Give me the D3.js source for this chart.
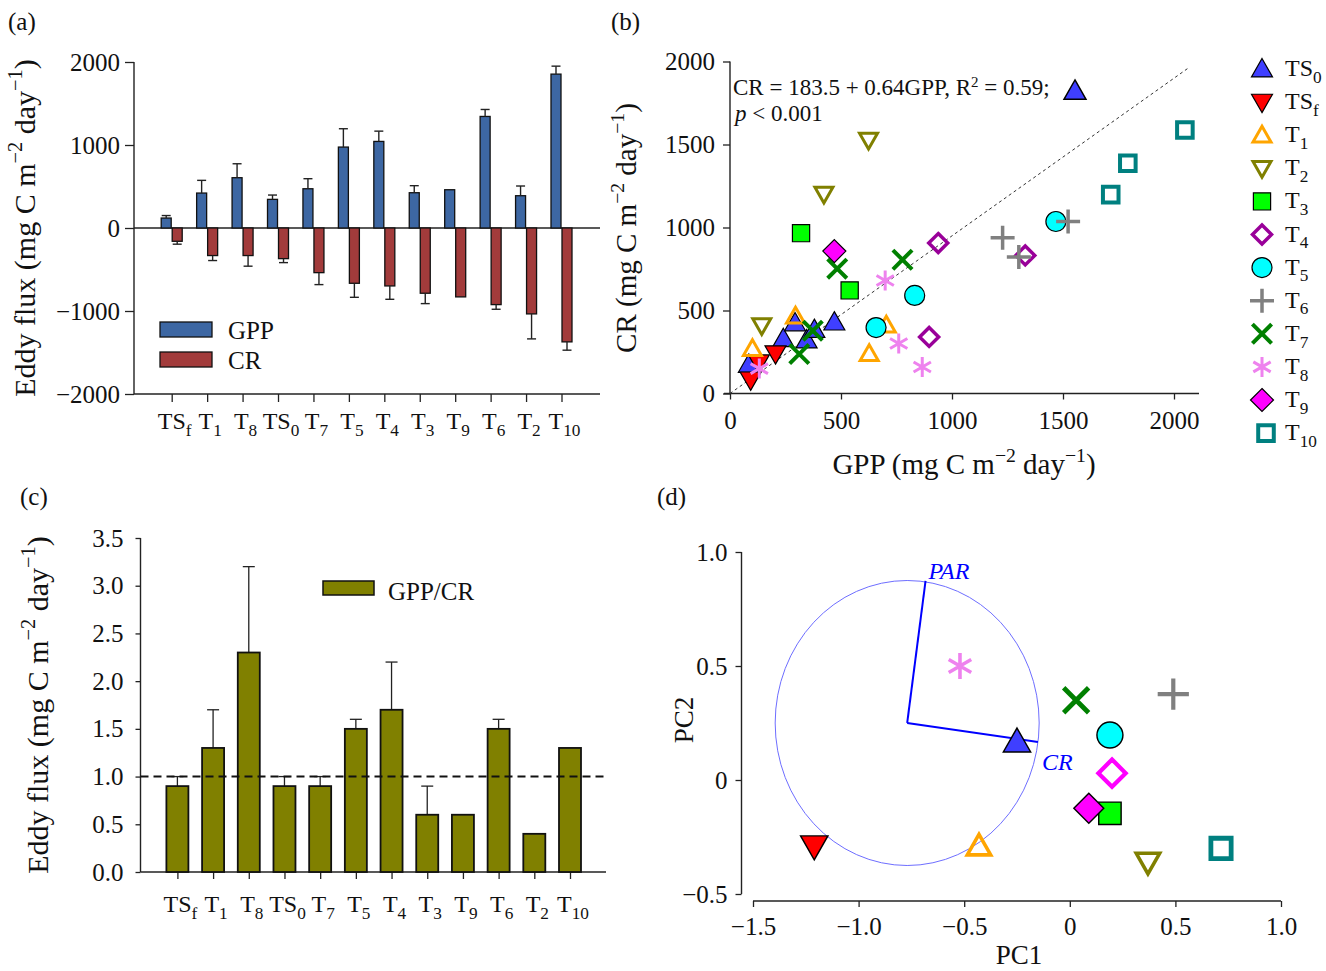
<!DOCTYPE html>
<html><head><meta charset="utf-8">
<script src="https://cdn.jsdelivr.net/npm/d3@7"></script>
<style>
body{margin:0;background:#fff}
svg{display:block;background:#fff}
text{font-family:"Liberation Serif","Times New Roman",serif;fill:#111}
</style>
</head><body>
<svg id="chart" width="1326" height="971"></svg>
<script>
// ---------------- DATA ----------------
const categories = ["TSf","T1","T8","TS0","T7","T5","T4","T3","T9","T6","T2","T10"];
// panel (a): eddy flux means and error
const gppMean = [120,421,606,345,473,975,1043,425,461,1344,389,1854];
const gppErr  = [30,153,168,52,121,221,124,85,0,84,117,96];
const crMean  = [160,332,332,369,538,666,698,786,830,923,1035,1372];
const crErr   = [35,60,128,48,144,169,161,125,0,56,301,100];
const fluxTicks = [-2000,-1000,0,1000,2000];
// panel (c): GPP/CR ratio
const ratioMean = [0.9,1.3,2.3,0.9,0.9,1.5,1.7,0.6,0.6,1.5,0.4,1.3];
const ratioErr  = [0.1,0.4,0.9,0.1,0.1,0.1,0.5,0.3,0,0.1,0,0];
const ratioTicks = [0,0.5,1.0,1.5,2.0,2.5,3.0,3.5];
const ratioRef = 1.0;
// panel (b): scatter GPP vs CR per treatment
const seriesNames = ["TS0","TSf","T1","T2","T3","T4","T5","T6","T7","T8","T9","T10"];
const scatterGPP = [[85,240,293,345,380,470],[93,130,205],[101,295,627,704],[143,423,624],[320,539],[938,1330,897],[1468,832,658],[1228,1301,1523],[483,777,312,373],[132,699,760,866],[470],[1715,1792,2049]];
const scatterCR  = [[175,330,425,322,385,430],[82,185,240],[270,465,240,411],[410,1202,1527],[966,621],[906,832,341],[1036,591,397],[938,822,1036],[752,806,238,378],[150,681,301,160],[858],[1198,1387,1587]];
const scatterTicks = [0,500,1000,1500,2000];
const refLine = [[0,0],[2068,1964]];
// panel (d): PCA scores
const pc1 = [-0.25,-1.21,-0.43,0.37,0.19,0.20,0.19,0.49,0.03,-0.52,0.09,0.716];
const pc2 = [0.168,-0.29,-0.29,-0.36,-0.146,0.03,0.197,0.377,0.35,0.50,-0.124,-0.30];
const pcaXTicks = [-1.5,-1.0,-0.5,0,0.5,1.0];
const pcaYTicks = [-0.5,0,0.5,1.0];
const circleCenter = [-0.77,0.25];
const circleRadius = 0.625;
const loadingNames = ["PAR","CR"];
const loadingPC1 = [-0.683,-0.151];
const loadingPC2 = [0.873,0.167];

// ---------------- STYLE ----------------
const svg = d3.select("#chart");
const FONT = '"Liberation Serif","Times New Roman",serif';
const gppColor = "#3d67a3", crColor = "#a23b3b", ratioColor = "#808000";
const styles = {
  TS0:{shape:"triUp",   fill:"#3f3fff", stroke:"#000", sw:1.2, s:10.5},
  TSf:{shape:"triDown", fill:"#ff0000", stroke:"#000", sw:1.2, s:10.5},
  T1: {shape:"triUp",   fill:"none", stroke:"#ffa500", sw:3, s:9},
  T2: {shape:"triDown", fill:"none", stroke:"#808000", sw:3, s:9},
  T3: {shape:"square",  fill:"#00ff00", stroke:"#000", sw:1.2, s:10.5},
  T4: {shape:"diamond", fill:"none", stroke:"#990099", sw:3.5, s:9.5},
  T5: {shape:"circle",  fill:"#00ffff", stroke:"#000", sw:1.2, s:10},
  T6: {shape:"plus",    fill:"none", stroke:"#808080", sw:3.5, s:12},
  T7: {shape:"x",       fill:"none", stroke:"#008000", sw:4, s:12},
  T8: {shape:"asterisk",fill:"none", stroke:"#ee82ee", sw:3, s:10},
  T9: {shape:"diamond", fill:"#ff00ff", stroke:"#000", sw:1.2, s:11.5},
  T10:{shape:"square",  fill:"none", stroke:"#008080", sw:4, s:9.5}
};
function shapePath(shape, s){
  const c30=Math.cos(Math.PI/6)*s, s30=Math.sin(Math.PI/6)*s;
  switch(shape){
    case "triUp": return `M0,${-s}L${s},${0.75*s}L${-s},${0.75*s}Z`;
    case "triDown": return `M0,${s}L${s},${-0.75*s}L${-s},${-0.75*s}Z`;
    case "square": {const a=0.82*s; return `M${-a},${-a}H${a}V${a}H${-a}Z`;}
    case "diamond": return `M0,${-s}L${s},0L0,${s}L${-s},0Z`;
    case "circle": return `M${s},0A${s},${s} 0 1,1 ${-s},0A${s},${s} 0 1,1 ${s},0Z`;
    case "plus": return `M${-s},0H${s}M0,${-s}V${s}`;
    case "x": {const a=0.8*s; return `M${-a},${-a}L${a},${a}M${-a},${a}L${a},${-a}`;}
    case "asterisk": return `M0,${-s}V${s}M${-c30},${-s30}L${c30},${s30}M${-c30},${s30}L${c30},${-s30}`;
  }
}
function marker(g, name, x, y, scale, override){
  const st = Object.assign({}, styles[name], override||{});
  g.append("path").attr("d", shapePath(st.shape, st.s*scale))
    .attr("transform", `translate(${x},${y})`)
    .attr("fill", st.fill).attr("stroke", st.stroke)
    .attr("stroke-width", st.sw*(scale>1?1.2:1)).attr("stroke-linejoin","miter");
}
function splitLabel(c){ const m = c.match(/^(TS|T)(.*)$/); return [m[1], m[2]]; }
function subText(t, base, sub, fs){
  t.append("tspan").text(base);
  t.append("tspan").attr("font-size", fs*0.72).attr("dy", fs*0.28).text(sub);
}
function unitTitle(t, prefix, fs){
  t.append("tspan").text(prefix + " (mg C m");
  t.append("tspan").attr("dy", -fs*0.42).attr("font-size", fs*0.68).text("−2");
  t.append("tspan").attr("dy", fs*0.42).text(" day");
  t.append("tspan").attr("dy", -fs*0.42).attr("font-size", fs*0.68).text("−1");
  t.append("tspan").attr("dy", fs*0.42).text(")");
}
function styleAxis(g, fs){
  g.selectAll("path.domain").remove();
  g.selectAll(".tick line").attr("stroke","#222").attr("stroke-width",1.3);
  g.selectAll(".tick text").attr("font-family",FONT).attr("font-size",fs).attr("fill","#111");
}
const fmtMinus = d => d < 0 ? "−" + String(Math.abs(d)) : String(d);
const fmtDec = d => d === 0 ? "0" : (d < 0 ? "−" : "") + Math.abs(d).toFixed(1);
function hline(x1,x2,y,w){ svg.append("line").attr("x1",x1).attr("x2",x2).attr("y1",y).attr("y2",y).attr("stroke","#222").attr("stroke-width",w||1.4); }
function vline(x,y1,y2,w){ svg.append("line").attr("x1",x).attr("x2",x).attr("y1",y1).attr("y2",y2).attr("stroke","#222").attr("stroke-width",w||1.4); }

// panel letters
[["(a)",8,30],["(b)",611,30],["(c)",20,505],["(d)",657,505]].forEach(([t,x,y])=>
  svg.append("text").attr("x",x).attr("y",y).attr("font-size",25).text(t));

// ================= PANEL (a) =================
{
  const yA = d3.scaleLinear().domain([-2000,2000]).range([394,62]);
  const xA = d3.scalePoint().domain(categories).range([171.7,561.5]);
  const ax = svg.append("g").attr("transform","translate(134,0)")
    .call(d3.axisLeft(yA).tickValues(fluxTicks).tickSize(9).tickPadding(5).tickFormat(fmtMinus));
  styleAxis(ax, 25);
  vline(134, 62, 394);
  hline(134, 600, yA(-2000));
  hline(134, 600, yA(0));
  const bx = svg.append("g").attr("transform",`translate(0,${yA(-2000)})`)
    .call(d3.axisBottom(xA).tickSize(8).tickFormat(""));
  styleAxis(bx, 24);
  categories.forEach((c,i)=>{
    const [b,s] = splitLabel(c);
    const t = svg.append("text").attr("x", xA(c)+3).attr("y", 429).attr("text-anchor","middle").attr("font-size",24);
    subText(t,b,s,24);
  });
  const bw = 10;
  categories.forEach((c,i)=>{
    const cx = xA(c);
    svg.append("rect").attr("x",cx-bw-0.5).attr("width",bw).attr("y",yA(gppMean[i])).attr("height",yA(0)-yA(gppMean[i]))
      .attr("fill",gppColor).attr("stroke","#111").attr("stroke-width",1.3);
    if(gppErr[i]>0){
      const ex = cx-bw/2-0.5;
      vline(ex, yA(gppMean[i]), yA(gppMean[i]+gppErr[i]), 1.4);
      hline(ex-4.5, ex+4.5, yA(gppMean[i]+gppErr[i]), 1.4);
    }
    svg.append("rect").attr("x",cx+0.5).attr("width",bw).attr("y",yA(0)).attr("height",yA(-crMean[i])-yA(0))
      .attr("fill",crColor).attr("stroke","#111").attr("stroke-width",1.3);
    if(crErr[i]>0){
      const ex = cx+bw/2+0.5;
      vline(ex, yA(-crMean[i]), yA(-crMean[i]-crErr[i]), 1.4);
      hline(ex-4.5, ex+4.5, yA(-crMean[i]-crErr[i]), 1.4);
    }
  });
  [["GPP",gppColor,322],["CR",crColor,352]].forEach(([n,col,y])=>{
    svg.append("rect").attr("x",160).attr("y",y).attr("width",52).attr("height",15).attr("fill",col).attr("stroke","#111").attr("stroke-width",1.3);
    svg.append("text").attr("x",228).attr("y",y+17).attr("font-size",25).text(n);
  });
  const tt = svg.append("text").attr("transform","translate(35,228) rotate(-90)").attr("text-anchor","middle").attr("font-size",30);
  unitTitle(tt,"Eddy flux",30);
}

// ================= PANEL (c) =================
{
  const yC = d3.scaleLinear().domain([0,3.5]).range([872,538]);
  const xC = d3.scalePoint().domain(categories).range([177.4,570]);
  const ax = svg.append("g").attr("transform","translate(140.5,0)")
    .call(d3.axisLeft(yC).tickValues(ratioTicks).tickSize(5).tickPadding(12).tickFormat(d3.format(".1f")));
  styleAxis(ax, 25);
  vline(140.5, 538, 872);
  hline(140.5, 606, yC(0));
  const bx = svg.append("g").attr("transform",`translate(0,${yC(0)})`)
    .call(d3.axisBottom(xC).tickSize(7).tickFormat(""));
  styleAxis(bx, 24);
  categories.forEach((c,i)=>{
    const [b,s] = splitLabel(c);
    const t = svg.append("text").attr("x", xC(c)+3).attr("y", 912).attr("text-anchor","middle").attr("font-size",24);
    subText(t,b,s,24);
  });
  const bw = 22;
  categories.forEach((c,i)=>{
    const cx = xC(c);
    if(ratioErr[i]>0){
      vline(cx, yC(ratioMean[i]), yC(ratioMean[i]+ratioErr[i]), 1.3);
      hline(cx-6, cx+6, yC(ratioMean[i]+ratioErr[i]), 1.3);
    }
    svg.append("rect").attr("x",cx-bw/2).attr("width",bw).attr("y",yC(ratioMean[i])).attr("height",yC(0)-yC(ratioMean[i]))
      .attr("fill",ratioColor).attr("stroke","#111").attr("stroke-width",1.8);
  });
  svg.append("line").attr("x1",140.5).attr("x2",606).attr("y1",yC(ratioRef)).attr("y2",yC(ratioRef))
    .attr("stroke","#111").attr("stroke-width",2).attr("stroke-dasharray","8,5");
  svg.append("rect").attr("x",323).attr("y",581).attr("width",51).attr("height",14).attr("fill",ratioColor).attr("stroke","#111").attr("stroke-width",1.5);
  svg.append("text").attr("x",388).attr("y",600).attr("font-size",25).text("GPP/CR");
  const tt = svg.append("text").attr("transform","translate(48,705) rotate(-90)").attr("text-anchor","middle").attr("font-size",30);
  unitTitle(tt,"Eddy flux",30);
}

// ================= PANEL (b) =================
{
  const xB = d3.scaleLinear().domain([0,2000]).range([730,1174]);
  const yB = d3.scaleLinear().domain([0,2000]).range([393.5,61.5]);
  const ay = svg.append("g").attr("transform","translate(730,0)")
    .call(d3.axisLeft(yB).tickValues(scatterTicks).tickSize(7).tickPadding(8).tickFormat(d3.format("d")));
  styleAxis(ay, 25);
  const axb = svg.append("g").attr("transform","translate(0,393.5)")
    .call(d3.axisBottom(xB).tickValues(scatterTicks).tickSize(6).tickPadding(12).tickFormat(d3.format("d")));
  styleAxis(axb, 25);
  vline(730, 61.5, 393.5);
  hline(724, 1199, 393.5);
  svg.append("line").attr("x1",xB(refLine[0][0])).attr("y1",yB(refLine[0][1])).attr("x2",xB(refLine[1][0])).attr("y2",yB(refLine[1][1]))
    .attr("stroke","#333").attr("stroke-width",1).attr("stroke-dasharray","3,3");
  const g = svg.append("g");
  seriesNames.forEach((n,si)=>{
    scatterGPP[si].forEach((gv,k)=> marker(g, n, xB(gv), yB(scatterCR[si][k]), 1));
  });
  const a1 = svg.append("text").attr("x",733).attr("y",95).attr("font-size",23);
  a1.append("tspan").text("CR = 183.5 + 0.64GPP, R");
  a1.append("tspan").attr("dy",-8).attr("font-size",15).text("2");
  a1.append("tspan").attr("dy",8).text(" = 0.59;");
  marker(svg, "TS0", 1075, 91, 1.05);
  const a2 = svg.append("text").attr("x",735).attr("y",121).attr("font-size",23);
  a2.append("tspan").attr("font-style","italic").text("p");
  a2.append("tspan").text(" < 0.001");
  const tx = svg.append("text").attr("x",964).attr("y",474).attr("text-anchor","middle").attr("font-size",29);
  unitTitle(tx,"GPP",29);
  const ty = svg.append("text").attr("transform","translate(636,228) rotate(-90)").attr("text-anchor","middle").attr("font-size",29);
  unitTitle(ty,"CR",29);
  seriesNames.forEach((n,i)=>{
    const y = 69 + i*33.1;
    marker(svg, n, n==="T10"?1266:1262, y, 1);
    const [b,s] = splitLabel(n);
    const t = svg.append("text").attr("x",1285).attr("y",y+7).attr("font-size",24);
    subText(t,b,s,24);
  });
}

// ================= PANEL (d) =================
{
  const xD = d3.scaleLinear().domain([-1.5,1.0]).range([753,1281]);
  const yD = d3.scaleLinear().domain([-0.5,1.0]).range([894,552]);
  const ay = svg.append("g").attr("transform","translate(741.5,0)")
    .call(d3.axisLeft(yD).tickValues(pcaYTicks).tickSize(6).tickPadding(8).tickFormat(fmtDec));
  styleAxis(ay, 25);
  vline(741.5, 552, 894);
  const ax = svg.append("g").attr("transform","translate(0,901)")
    .call(d3.axisBottom(xD).tickValues(pcaXTicks).tickSize(6).tickPadding(10).tickFormat(fmtDec));
  styleAxis(ax, 25);
  hline(753, 1281, 901);
  const cx = xD(circleCenter[0]), cy = yD(circleCenter[1]);
  svg.append("ellipse").attr("cx",cx).attr("cy",cy)
    .attr("rx", xD(circleCenter[0]+circleRadius)-cx).attr("ry", cy-yD(circleCenter[1]+circleRadius))
    .attr("fill","none").attr("stroke","#6e6eff").attr("stroke-width",1);
  loadingNames.forEach((n,i)=>{
    svg.append("line").attr("x1",cx).attr("y1",cy).attr("x2",xD(loadingPC1[i])).attr("y2",yD(loadingPC2[i]))
      .attr("stroke","#0000ff").attr("stroke-width",2);
  });
  svg.append("text").attr("x",xD(loadingPC1[0])+3).attr("y",yD(loadingPC2[0])-2).attr("font-size",24)
    .attr("font-style","italic").style("fill","#0000ff").text(loadingNames[0]);
  svg.append("text").attr("x",xD(loadingPC1[1])+4).attr("y",yD(loadingPC2[1])+28).attr("font-size",24)
    .attr("font-style","italic").style("fill","#0000ff").text(loadingNames[1]);
  const g = svg.append("g");
  seriesNames.forEach((n,i)=>{
    const ov = n==="T4" ? {stroke:"#ff00ff", s:10.5} : null;
    marker(g, n, xD(pc1[i]), yD(pc2[i]), 1.3, ov);
  });
  svg.append("text").attr("x",1019).attr("y",964).attr("text-anchor","middle").attr("font-size",27).text("PC1");
  svg.append("text").attr("transform","translate(693,720) rotate(-90)").attr("text-anchor","middle").attr("font-size",27).text("PC2");
}
</script>
</body></html>
